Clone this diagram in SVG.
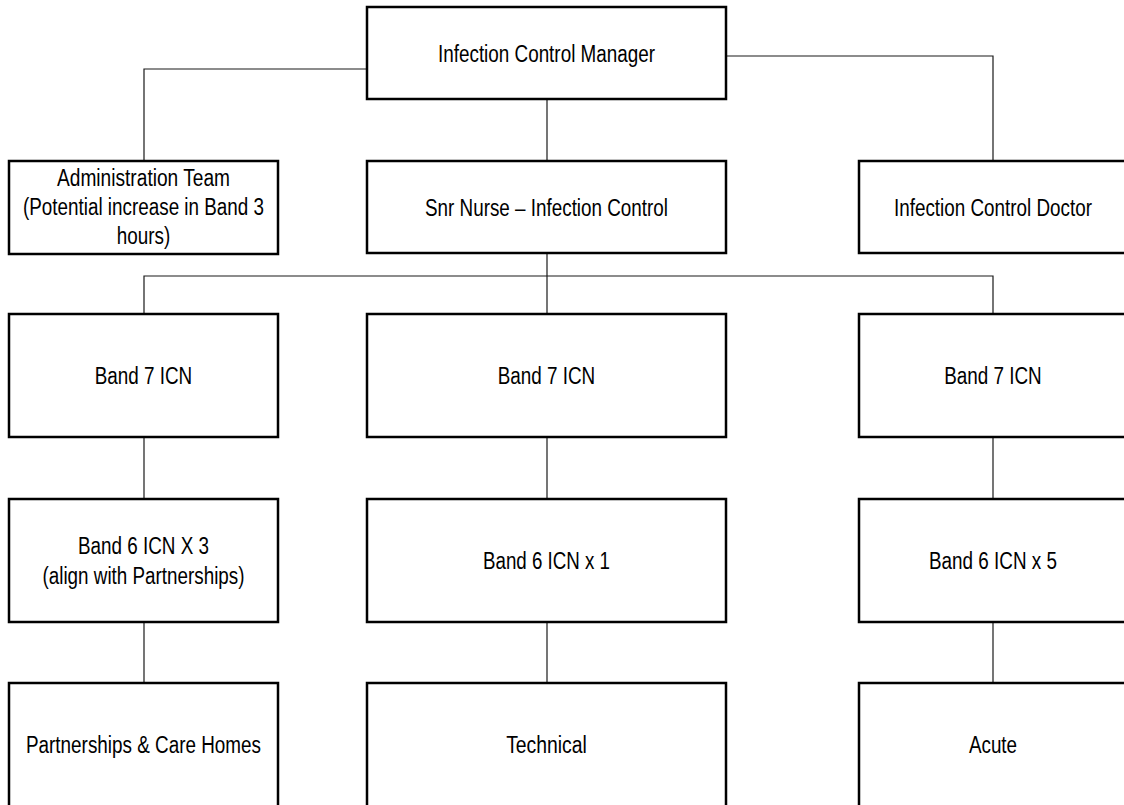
<svg xmlns="http://www.w3.org/2000/svg" width="1124" height="805" viewBox="0 0 1124 805">
  <style>
    .box { fill: #ffffff; stroke: #000000; stroke-width: 2.5; }
    .wire { fill: none; stroke: #1a1a1a; stroke-width: 1.2; }
    .lbl { font-family: "Liberation Sans Narrow", "Liberation Sans", Arial, sans-serif; font-size: 23px; fill: #000000; text-anchor: middle; }
  </style>
  <rect width="1124" height="805" fill="#ffffff"/>

  <!-- reporting lines -->
  <g id="connectors">
    <polyline class="wire" points="367,69 144,69 144,161"/>
    <polyline class="wire" points="726,56 993,56 993,161"/>
    <line class="wire" x1="547" y1="99" x2="547" y2="161"/>
    <line class="wire" x1="547" y1="253" x2="547" y2="314"/>
    <polyline class="wire" points="144,314 144,276 993,276 993,314"/>
    <line class="wire" x1="144" y1="437" x2="144" y2="499"/>
    <line class="wire" x1="547" y1="437" x2="547" y2="499"/>
    <line class="wire" x1="993" y1="437" x2="993" y2="499"/>
    <line class="wire" x1="144" y1="622" x2="144" y2="683"/>
    <line class="wire" x1="547" y1="622" x2="547" y2="683"/>
    <line class="wire" x1="993" y1="622" x2="993" y2="683"/>
  </g>

  <!-- top level -->
  <g id="manager">
    <rect class="box" x="367" y="7" width="359" height="92"/>
    <text class="lbl" x="546.5" y="61.5" textLength="217" lengthAdjust="spacingAndGlyphs">Infection Control Manager</text>
  </g>

  <!-- second level -->
  <g id="admin-team">
    <rect class="box" x="9" y="161" width="269" height="93"/>
    <text class="lbl" x="143.5" y="186" textLength="173" lengthAdjust="spacingAndGlyphs">Administration Team</text>
    <text class="lbl" x="143.5" y="215" textLength="241" lengthAdjust="spacingAndGlyphs">(Potential increase in Band 3</text>
    <text class="lbl" x="143.5" y="244" textLength="53.5" lengthAdjust="spacingAndGlyphs">hours)</text>
  </g>
  <g id="snr-nurse">
    <rect class="box" x="367" y="161" width="359" height="92"/>
    <text class="lbl" x="546.5" y="215.5" textLength="243" lengthAdjust="spacingAndGlyphs">Snr Nurse – Infection Control</text>
  </g>
  <g id="doctor">
    <rect class="box" x="859" y="161" width="268" height="92"/>
    <text class="lbl" x="993" y="215.5" textLength="198" lengthAdjust="spacingAndGlyphs">Infection Control Doctor</text>
  </g>

  <!-- band 7 row -->
  <g id="band7-left">
    <rect class="box" x="9" y="314" width="269" height="123"/>
    <text class="lbl" x="143.5" y="384" textLength="97.5" lengthAdjust="spacingAndGlyphs">Band 7 ICN</text>
  </g>
  <g id="band7-mid">
    <rect class="box" x="367" y="314" width="359" height="123"/>
    <text class="lbl" x="546.5" y="384" textLength="97.5" lengthAdjust="spacingAndGlyphs">Band 7 ICN</text>
  </g>
  <g id="band7-right">
    <rect class="box" x="859" y="314" width="268" height="123"/>
    <text class="lbl" x="993" y="384" textLength="97.5" lengthAdjust="spacingAndGlyphs">Band 7 ICN</text>
  </g>

  <!-- band 6 row -->
  <g id="band6-left">
    <rect class="box" x="9" y="499" width="269" height="123"/>
    <text class="lbl" x="143.5" y="553.5" textLength="131" lengthAdjust="spacingAndGlyphs">Band 6 ICN X 3</text>
    <text class="lbl" x="143.5" y="583.5" textLength="202" lengthAdjust="spacingAndGlyphs">(align with Partnerships)</text>
  </g>
  <g id="band6-mid">
    <rect class="box" x="367" y="499" width="359" height="123"/>
    <text class="lbl" x="546.5" y="569" textLength="127" lengthAdjust="spacingAndGlyphs">Band 6 ICN x 1</text>
  </g>
  <g id="band6-right">
    <rect class="box" x="859" y="499" width="268" height="123"/>
    <text class="lbl" x="993" y="569" textLength="128" lengthAdjust="spacingAndGlyphs">Band 6 ICN x 5</text>
  </g>

  <!-- service areas -->
  <g id="partnerships">
    <rect class="box" x="9" y="683" width="269" height="130"/>
    <text class="lbl" x="143.5" y="753" textLength="235" lengthAdjust="spacingAndGlyphs">Partnerships &amp; Care Homes</text>
  </g>
  <g id="technical">
    <rect class="box" x="367" y="683" width="359" height="130"/>
    <text class="lbl" x="546.5" y="753" textLength="80.7" lengthAdjust="spacingAndGlyphs">Technical</text>
  </g>
  <g id="acute">
    <rect class="box" x="859" y="683" width="268" height="130"/>
    <text class="lbl" x="993" y="753" textLength="48.2" lengthAdjust="spacingAndGlyphs">Acute</text>
  </g>
</svg>
